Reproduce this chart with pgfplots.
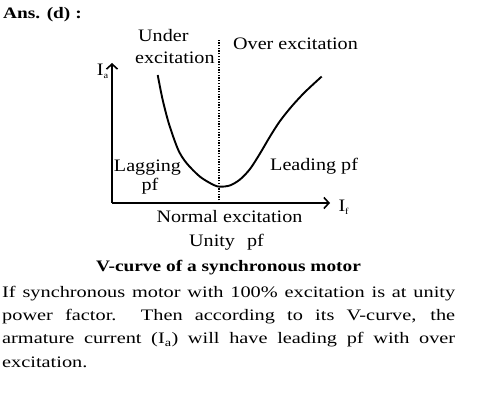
\documentclass[border=0pt]{standalone}
\usepackage{fontspec}
\setmainfont{Liberation Serif}
\newfontfamily\bodyfont{Liberation Serif}[FakeStretch=1.27]
\newfontfamily\chartfont{Liberation Serif}[FakeStretch=1.15]
\newfontfamily\titlefont{Liberation Serif}[FakeStretch=1.21]
\usepackage{pgfplots}
\pgfplotsset{compat=1.18}
\usetikzlibrary{arrows.meta}
\newcommand\cf{\chartfont\fontsize{17.5bp}{21bp}\selectfont}
\newcommand\subs[1]{\raisebox{-2.5bp}{\fontsize{9bp}{9bp}\selectfont #1}}
\begin{document}
\begin{tikzpicture}[x=1bp,y=1bp]
\useasboundingbox (0,0) rectangle (478,393);
\node[anchor=base west, inner sep=0] at (3,374.7) {\titlefont\fontsize{16bp}{19bp}\selectfont\bfseries Ans. (d) :};
\begin{axis}[
  at={(112bp,190bp)}, anchor=south west, scale only axis,
  width=218bp, height=140bp,
  xmin=0, xmax=218, ymin=0, ymax=140,
  axis lines=left, xtick=\empty, ytick=\empty, clip=false,
  axis line style={line width=1.6bp, -{Straight Barb[length=5bp,width=11bp,line width=1.6bp]}},
]
\addplot[black, line width=1.9bp, smooth, tension=0.5] coordinates {
(45.7,128) (50.7,103) (57.3,78) (66.3,53) (74.7,39.7) (88,26.3) (101.3,18.2) (108,16.3)
(118,17.6) (128,23.5) (138,34) (148,49.5) (158,66.5) (168,82) (180,97) (193,111) (209.7,126.5)
};
\addplot[black, line width=1.4bp, dash pattern=on 1.3bp off 1.4bp] coordinates {(107,0) (107,163)};
\node[anchor=base west, inner sep=0] at (axis cs:-15.3,127) {\cf I\subs{a}};
\node[anchor=base west, inner sep=0] at (axis cs:226.3,-8.7) {\cf I\subs{f}};
\node[anchor=base west, inner sep=0] at (axis cs:26,161.5) {\cf Under};
\node[anchor=base west, inner sep=0] at (axis cs:23,139.5) {\cf excitation};
\node[anchor=base west, inner sep=0] at (axis cs:121,153.5) {\cf Over excitation};
\node[anchor=base, inner sep=0] at (axis cs:35.5,31.3) {\cf Lagging};
\node[anchor=base, inner sep=0] at (axis cs:38,13) {\cf pf};
\node[anchor=base west, inner sep=0] at (axis cs:158,33) {\cf Leading pf};
\node[anchor=base, inner sep=0] at (axis cs:117.5,-19.7) {\cf Normal excitation};
\node[anchor=base west, inner sep=0] at (axis cs:77,-43.5) {\cf Unity\hspace{7bp} pf};
\end{axis}
\node[anchor=base, inner sep=0] at (228.5,121.3) {\titlefont\fontsize{16bp}{19bp}\selectfont\bfseries V-curve of a synchronous motor};
\node[anchor=base west, inner sep=0] at (2,95.7) {\parbox[t]{453bp}{\bodyfont\fontsize{16bp}{23.3bp}\selectfont
If synchronous motor with 100\% excitation is at unity\linebreak
power factor.\ \ Then according to its V-curve, the\linebreak
armature current (I\textsubscript{a}) will have leading pf with over\linebreak
excitation.}};
\end{tikzpicture}
\end{document}
